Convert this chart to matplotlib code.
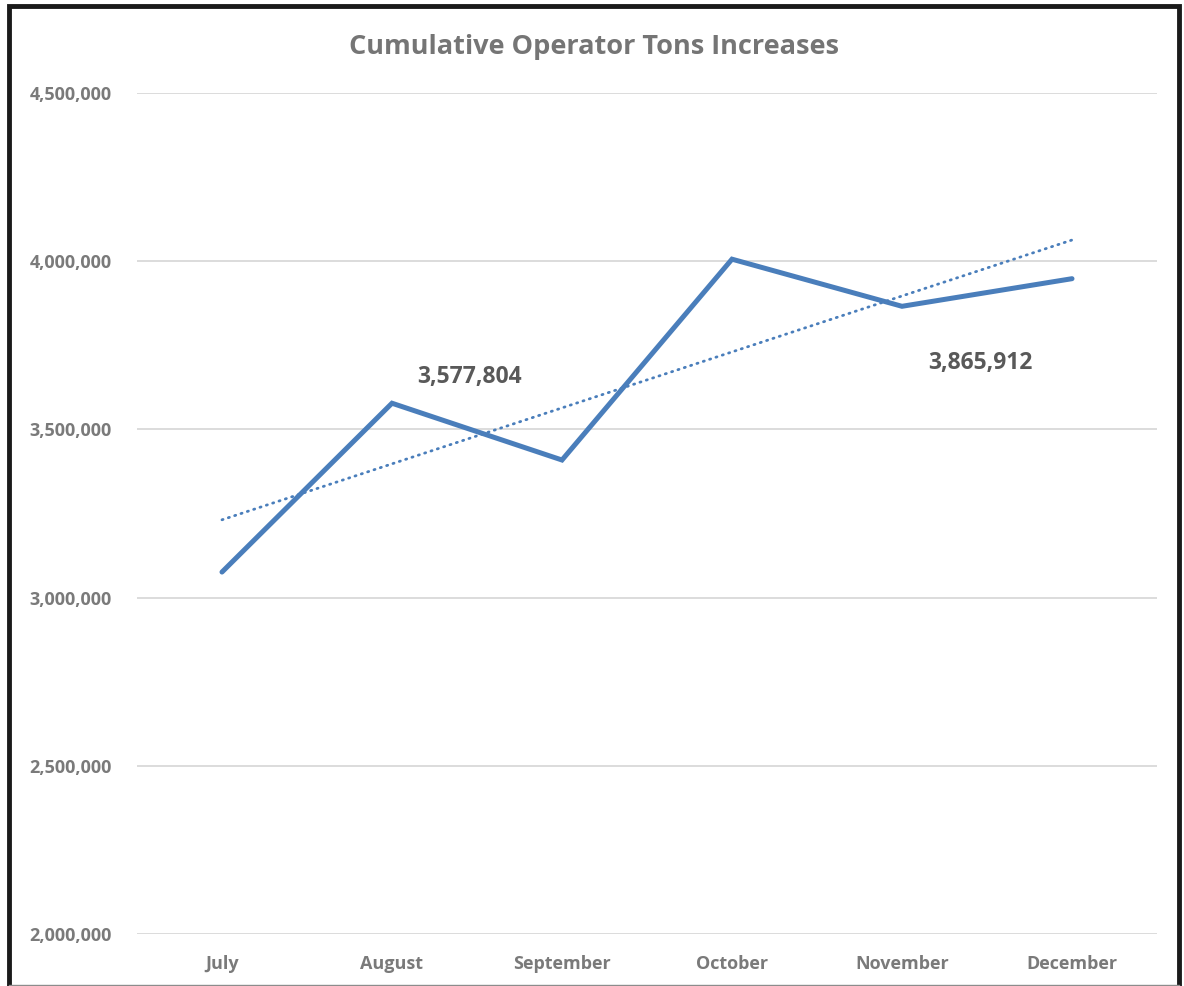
import numpy as np
import matplotlib
matplotlib.use('Agg')
import matplotlib.pyplot as plt
from matplotlib.patches import Rectangle
from matplotlib.lines import Line2D
from matplotlib.ticker import FuncFormatter

months = ['July', 'August', 'September', 'October', 'November', 'December']
tons = [3076000, 3577804, 3409000, 4006000, 3865912, 3948000]
labelled = {1: '3,577,804', 4: '3,865,912'}  # index -> data label text

plt.rcParams['font.family'] = ['Open Sans', 'DejaVu Sans']
plt.rcParams['font.weight'] = 'bold'

fig = plt.figure(figsize=(11.84, 9.86), dpi=100)
ax = fig.add_axes([0.1157, 0.0527, 0.8615, 0.853])

x = np.arange(len(months))
ax.plot(x, tons, color='#4a7ebb', linewidth=3.6, solid_joinstyle='miter', solid_capstyle='round', zorder=3)

# linear trendline like excel
k, b = np.polyfit(x, tons, 1)
ax.plot(x, k*x + b, color='#4a7ebb', linewidth=2.0, linestyle=(0, (0.4, 2.0)),
        dash_capstyle='round', zorder=2)

# data labels
ax.annotate(labelled[1], (1, tons[1]), xytext=(78, 26), textcoords='offset pixels',
            ha='center', va='center', fontsize=16.5, color='#595959', fontweight='bold')
ax.annotate(labelled[4], (4, tons[4]), xytext=(78, -57), textcoords='offset pixels',
            ha='center', va='center', fontsize=16.5, color='#595959', fontweight='bold')

ax.set_xlim(-0.5, 5.5)
ax.set_ylim(2000000, 4500000)
ax.set_yticks(np.arange(2000000, 4500001, 500000))
ax.yaxis.set_major_formatter(FuncFormatter(lambda v, p: f'{int(v):,}'))
ax.set_xticks(x)
ax.set_xticklabels(months)
ax.grid(axis='y', color='#d9d9d9', linewidth=1.3)
ax.set_axisbelow(True)
for s in ax.spines.values():
    s.set_visible(False)
ax.tick_params(axis='both', length=0, labelsize=13, labelcolor='#7a7a7a')
ax.tick_params(axis='y', pad=18)
ax.tick_params(axis='x', pad=15)

fig.text(0.502, 0.952, 'Cumulative Operator Tons Increases', ha='center', va='center',
         fontsize=19.5, color='#757575', fontweight='bold')

# black frame round the chart, bottom edge is cut off in the screenshot
fig.patches.append(Rectangle((9/1184, -0.01), 1170/1184, 1.004, transform=fig.transFigure,
                             fill=False, edgecolor='#1a1a1a', linewidth=3.5))
fig.lines.append(Line2D([9/1184, 1179/1184], [1.5/986, 1.5/986], transform=fig.transFigure,
                        color='#8c8c8c', linewidth=1.0))

fig.savefig('out.png', dpi=100)
